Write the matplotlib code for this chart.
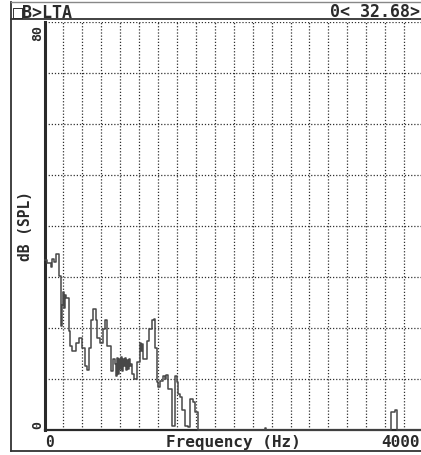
import matplotlib
matplotlib.use("Agg")
import matplotlib.pyplot as plt
from matplotlib.lines import Line2D
import numpy as np

# ---- data ----
freq_hz = [0, 28, 71, 81, 102, 123, 155, 176, 187, 197, 208, 218, 229, 261, 271,
           292, 334, 366, 398, 430, 451, 472, 493, 514, 546, 556, 588, 619, 641,
           662, 704, 725, 746, 757, 767, 778, 788, 799, 809, 820, 831, 841, 852,
           862, 873, 883, 894, 904, 915, 925, 946, 978, 1010, 1020, 1031, 1041,
           1083, 1104, 1136, 1157, 1168, 1189, 1199, 1220, 1252, 1273, 1283, 1304,
           1347, 1378, 1399, 1410, 1431, 1452, 1484, 1515, 1536, 1568, 1589, 1621,
           2325, 2346, 3667, 3699, 3720, 4000]
level_db = [33.3, 32.7, 32.0, 33.5, 33.0, 34.5, 30.2, 20.3, 24.5, 27.0, 24.0, 26.5,
            25.8, 19.5, 16.5, 15.5, 17.0, 18.0, 16.0, 12.5, 11.8, 16.0, 21.5, 23.7,
            21.5, 18.0, 17.0, 19.8, 21.5, 16.5, 11.6, 14.0, 13.0, 10.5, 14.2, 11.0,
            14.0, 12.0, 14.3, 11.5, 14.0, 12.5, 14.2, 11.8, 13.8, 12.0, 14.0, 12.5,
            13.0, 11.0, 10.0, 13.3, 17.0, 15.5, 16.8, 14.0, 17.5, 19.8, 21.5, 21.8,
            16.0, 9.5, 8.5, 9.6, 10.6, 10.0, 10.8, 8.0, 0.8, 10.6, 9.5, 7.0, 6.5,
            4.0, 0.8, 0.5, 6.0, 5.5, 3.5, 0.0, 0.3, 0.0, 3.5, 4.0, 0.0, 0.0]

x_grid = np.arange(0, 4001, 200)
y_grid = np.arange(0, 81, 10)

title_left = "\u25a1B>LTA"
title_right = "0< 32.68>"
x_label = "Frequency (Hz)"
y_label = "dB (SPL)"
x_min_label, x_max_label = "0", "4000"
y_min_label, y_max_label = "0", "80"

W, H = 421, 456
fig = plt.figure(figsize=(W / 100, H / 100), dpi=100)
fig.patch.set_facecolor("white")

def fx(px):
    return px / W

def fy(py):
    return 1 - py / H

mono = ["DejaVu Sans Mono", "DejaVu Sans"]
ink = "#2a2a2a"

ax = fig.add_axes([fx(44.5), fy(431), fx(423) - fx(44.5), fy(23) - fy(431)])
ax.set_xlim(0, 4000)
ax.set_ylim(0, 80)
ax.set_xticks(x_grid)
ax.set_yticks(y_grid)
ax.tick_params(length=0, labelbottom=False, labelleft=False)
ax.grid(True, color="#303030", linestyle=(0, (1, 1.5)), linewidth=0.9)
for s in ("top", "right"):
    ax.spines[s].set_visible(False)
ax.spines["left"].set_linewidth(2.2)
ax.spines["left"].set_color(ink)
ax.spines["bottom"].set_linewidth(1.6)
ax.spines["bottom"].set_color(ink)

ax.step(freq_hz, level_db, where="post", color="#484848", linewidth=1.1,
        zorder=3, clip_on=False)

# y tick labels (rotated)
ax.text(-0.018, 1.0 - 0.004, y_max_label, transform=ax.transAxes, rotation=90,
        ha="center", va="top", fontsize=9.5, fontweight="bold", family=mono, color=ink)
ax.text(-0.018, 0.006, y_min_label, transform=ax.transAxes, rotation=90,
        ha="center", va="bottom", fontsize=9.5, fontweight="bold", family=mono, color=ink)

# axis labels
fig.text(fx(26), fy(226), y_label, rotation=90, ha="center", va="center",
         fontsize=10.5, fontweight="bold", family=mono, color=ink)
fig.text(fx(49), fy(443), x_min_label, ha="center", va="center",
         fontsize=10.5, fontweight="bold", family=mono, color=ink)
fig.text(fx(233), fy(443), x_label, ha="center", va="center",
         fontsize=11.5, fontweight="bold", family=mono, color=ink)
fig.text(fx(420), fy(443), x_max_label, ha="right", va="center",
         fontsize=11.5, fontweight="bold", family=mono, color=ink)

# header texts
fig.text(fx(12.5), fy(12), title_left, ha="left", va="center",
         fontsize=12, fontweight="bold", family=mono, color=ink)
fig.text(fx(420), fy(12), title_right, ha="right", va="center",
         fontsize=12, fontweight="bold", family=mono, color=ink)

# outer frame and header separator
frame_kw = dict(color="#333333", linewidth=1.3, transform=fig.transFigure)
fig.add_artist(Line2D([fx(11), fx(11)], [fy(2.5), fy(452)], **frame_kw))
fig.add_artist(Line2D([fx(11), fx(421)], [fy(2.5), fy(2.5)], color="#888888",
                      linewidth=1.0, transform=fig.transFigure))
fig.add_artist(Line2D([fx(11), fx(421)], [fy(452), fy(452)], **frame_kw))
fig.add_artist(Line2D([fx(11), fx(421)], [fy(20), fy(20)], **frame_kw))

fig.savefig("out.png", dpi=100, facecolor="white")
